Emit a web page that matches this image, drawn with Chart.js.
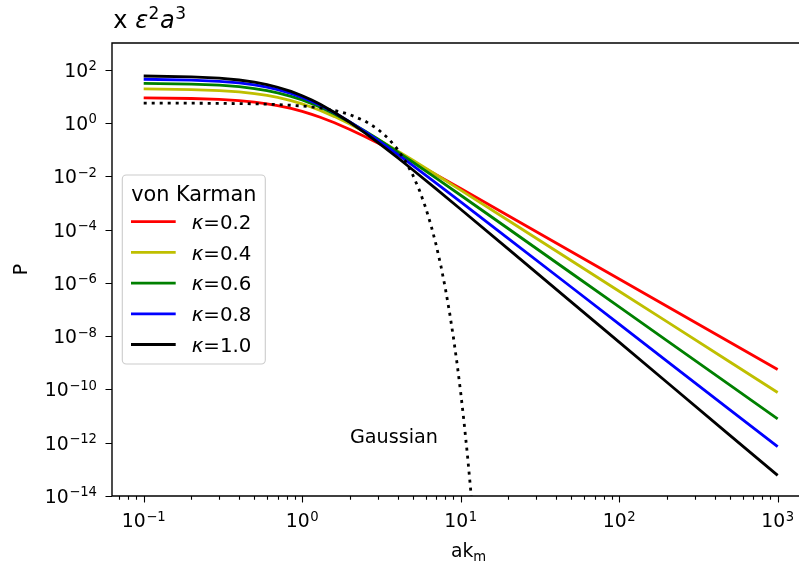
<!DOCTYPE html>
<html>
<head>
<meta charset="utf-8">
<script src="https://cdn.jsdelivr.net/npm/chart.js@4.4.1/dist/chart.umd.min.js"></script>
<style>
  html, body { margin: 0; padding: 0; background: #fff; overflow: hidden; }
  #wrap { width: 799px; height: 569px; }
</style>
</head>
<body>
<div id="wrap"><canvas id="chart" width="799" height="569"></canvas></div>
<script>
const kGrid = [0.1, 0.2, 0.3, 0.4, 0.5, 0.6, 0.7, 0.85, 1, 1.15, 1.3, 1.6, 2, 2.5, 3, 4, 5, 7, 10, 20, 50, 100, 200, 500, 1000];

// von Karman spectra, P in units of eps^2 a^3
const pKappa02 = [8.68, 8.25, 7.62, 6.85, 6.04, 5.23, 4.48, 3.50, 2.72, 2.106, 1.64, 1.019, 0.572, 0.304, 0.176, 0.0714, 0.0347, 0.0114, 3.45e-3, 3.31e-4, 1.47e-5, 1.40e-6, 1.32e-7, 5.87e-9, 5.57e-10];
const pKappa04 = [18.95, 17.92, 16.40, 14.57, 12.64, 10.77, 9.05, 6.87, 5.17, 3.895, 2.946, 1.730, 0.907, 0.448, 0.243, 0.0887, 0.0396, 0.0114, 3.00e-3, 2.19e-4, 6.75e-6, 4.85e-7, 3.48e-8, 1.07e-9, 7.69e-11];
const pKappa06 = [30.65, 28.83, 26.12, 22.92, 19.59, 16.41, 13.54, 9.99, 7.30, 5.33, 3.918, 2.175, 1.066, 0.488, 0.2486, 0.0816, 0.0334, 8.47e-3, 1.93e-3, 1.07e-4, 2.29e-6, 1.25e-7, 6.78e-9, 1.44e-10, 7.86e-12];
const pKappa08 = [43.63, 40.78, 36.61, 31.72, 26.72, 22.01, 17.84, 12.78, 9.06, 6.43, 4.585, 2.406, 1.10, 0.469, 0.2237, 0.0660, 0.0248, 5.52e-3, 1.10e-3, 4.60e-5, 6.82e-7, 2.82e-8, 1.16e-9, 1.72e-11, 7.07e-13];
const pKappa10 = [57.77, 53.68, 47.73, 40.86, 33.89, 27.46, 21.85, 15.21, 10.47, 7.20, 4.989, 2.476, 1.059, 0.418, 0.1873, 0.0497, 0.01718, 3.35e-3, 5.78e-4, 1.84e-5, 1.89e-7, 5.92e-9, 1.85e-10, 1.89e-12, 5.92e-14];

// Gaussian spectrum (dotted)
const kGauss = [0.1, 0.2, 0.3, 0.5, 0.7, 1, 1.25, 1.5, 1.75, 2, 2.5, 3, 3.5, 4, 4.5, 5, 5.5, 6, 6.5, 7, 7.5, 8, 8.5, 9, 9.5, 10, 10.5, 11, 11.5, 12];
const pGauss = [5.55, 5.51, 5.44, 5.23, 4.93, 4.34, 3.77, 3.17, 2.59, 2.05, 1.167, 0.587, 0.260, 0.102, 0.0352, 0.01075, 2.89e-3, 6.87e-4, 1.44e-4, 2.66e-5, 4.35e-6, 6.27e-7, 7.97e-8, 8.94e-9, 8.85e-10, 7.74e-11, 5.97e-12, 4.06e-13, 2.44e-14, 1.29e-15];

const kappaLabels = ["0.2", "0.4", "0.6", "0.8", "1.0"];
const xTickExps = [-1, 0, 1, 2, 3];
const yTickExps = [2, 0, -2, -4, -6, -8, -10, -12, -14];

const family = '"DejaVu Sans", sans-serif';
const fs = 18.8;
const fsSup = 13.2;
const lw = 2.8;

const toPoints = (xs, ys) => xs.map((x, i) => ({ x, y: ys[i] }));

const kappaSeries = [pKappa02, pKappa04, pKappa06, pKappa08, pKappa10];
const kappaColors = ["#ff0000", "#bfbf00", "#008000", "#0000ff", "#000000"];

const datasets = kappaSeries.map((values, i) => ({
  label: "\u03ba=" + kappaLabels[i],
  data: toPoints(kGrid, values),
  borderColor: kappaColors[i],
  borderWidth: lw,
  pointRadius: 0,
  fill: false,
  clip: 0,
  order: 5 - i,
}));

datasets.push({
  label: "Gaussian",
  data: toPoints(kGauss, pGauss),
  borderColor: "#000000",
  borderWidth: lw,
  borderDash: [3, 5],
  borderCapStyle: "butt",
  pointRadius: 0,
  fill: false,
  clip: 0,
  order: 0,
});

const supText = (exp) => (exp < 0 ? "\u2212" + -exp : String(exp));

const drawPow = (ctx, exp, x, base, align) => {
  const s = supText(exp);
  ctx.font = `${fs}px ${family}`;
  const w1 = ctx.measureText("10").width;
  ctx.font = `${fsSup}px ${family}`;
  const w2 = ctx.measureText(s).width;
  const total = w1 + 0.5 + w2;
  const left = align === "center" ? x - total / 2 : x - total;
  ctx.font = `${fs}px ${family}`;
  ctx.fillText("10", left, base);
  ctx.font = `${fsSup}px ${family}`;
  ctx.fillText(s, left + w1 + 0.5, base - 6.6);
};

// draws a run of [text, font, dy, gapAfter] pieces left to right
const drawRun = (ctx, pieces, x, base) => {
  let cx = x;
  for (const [text, font, dy, gap] of pieces) {
    ctx.font = font;
    ctx.fillText(text, cx, base + dy);
    cx += ctx.measureText(text).width + (gap || 0);
  }
  return cx;
};

const axesPlugin = {
  id: "mplAxes",
  afterDraw(chart) {
    const { ctx, chartArea: a, scales, width } = chart;
    const xs = scales.x;
    const ys = scales.y;
    const reg = `${fs}px ${family}`;
    const sup = `${fsSup}px ${family}`;

    ctx.save();
    ctx.fillStyle = "#000";
    ctx.strokeStyle = "#000";
    ctx.textAlign = "left";
    ctx.textBaseline = "alphabetic";

    // spines: the right one lies past the picture edge
    ctx.lineWidth = 1.4;
    ctx.beginPath();
    ctx.moveTo(width, a.top);
    ctx.lineTo(a.left, a.top);
    ctx.lineTo(a.left, a.bottom);
    ctx.lineTo(width, a.bottom);
    ctx.stroke();

    // x ticks: majors + minors, y majors only
    ctx.lineWidth = 1.1;
    ctx.beginPath();
    for (let e = -2; e <= 3; e++) {
      for (let m = 1; m <= 9; m++) {
        const v = m * Math.pow(10, e);
        if (v < xs.min || v > xs.max) continue;
        const px = Math.round(xs.getPixelForValue(v)) + 0.5;
        const len = m === 1 ? 6.5 : 3.7;
        ctx.moveTo(px, a.bottom);
        ctx.lineTo(px, a.bottom + len);
      }
    }
    for (const e of yTickExps) {
      const py = Math.round(ys.getPixelForValue(Math.pow(10, e))) + 0.5;
      ctx.moveTo(a.left, py);
      ctx.lineTo(a.left - 6.5, py);
    }
    ctx.stroke();

    // tick labels
    for (const e of xTickExps) {
      drawPow(ctx, e, xs.getPixelForValue(Math.pow(10, e)), a.bottom + 31.3, "center");
    }
    for (const e of yTickExps) {
      drawPow(ctx, e, 97, ys.getPixelForValue(Math.pow(10, e)) + 7, "right");
    }

    // title "x eps^2 a^3" (larger font)
    const tReg = `24px ${family}`;
    const tIta = `italic 24px ${family}`;
    const tSup = `17px ${family}`;
    drawRun(ctx, [["x ", tReg, 0], ["\u03b5", tIta, 0, 0.5], ["2", tSup, -9.5, 0.5], ["a", tIta, 0, 0.5], ["3", tSup, -9.5]], 113.3, 28);

    // axis labels
    ctx.font = reg;
    const wAk = ctx.measureText("ak").width;
    ctx.font = sup;
    const wM = ctx.measureText("m").width;
    drawRun(ctx, [["ak", reg, 0], ["m", sup, 4]], 468.6 - (wAk + wM) / 2, 557.3);

    ctx.save();
    ctx.translate(26.7, (a.top + a.bottom) / 2);
    ctx.rotate(-Math.PI / 2);
    ctx.font = reg;
    ctx.textAlign = "center";
    ctx.fillText("P", 0, 0);
    ctx.restore();

    // annotation
    ctx.font = `19.2px ${family}`;
    ctx.fillText("Gaussian", xs.getPixelForValue(2), ys.getPixelForValue(1e-12));

    // legend
    const bx = 122.3, by = 175, bw = 143, bh = 189, r = 4;
    ctx.beginPath();
    ctx.roundRect(bx, by, bw, bh, r);
    ctx.fillStyle = "rgba(255,255,255,0.8)";
    ctx.fill();
    ctx.strokeStyle = "#cccccc";
    ctx.lineWidth = 1.1;
    ctx.stroke();

    ctx.fillStyle = "#000";
    ctx.font = `20.8px ${family}`;
    ctx.textAlign = "center";
    ctx.fillText("von Karman", bx + bw / 2, 200.5);
    ctx.textAlign = "left";

    const lReg = `19.8px ${family}`;
    const lIta = `italic 19.8px ${family}`;
    kappaLabels.forEach((lab, i) => {
      const ly = 221.7 + i * 30.7;
      ctx.strokeStyle = kappaColors[i];
      ctx.lineWidth = lw;
      ctx.beginPath();
      ctx.moveTo(131, ly);
      ctx.lineTo(175.7, ly);
      ctx.stroke();
      drawRun(ctx, [["\u03ba", lIta, 0], ["=" + lab, lReg, 0]], 191.7, ly + 7.3);
    });

    ctx.restore();
  },
};

new Chart(document.getElementById("chart"), {
  type: "line",
  data: { datasets },
  options: {
    responsive: false,
    animation: false,
    devicePixelRatio: 1,
    layout: { padding: { left: 112, top: 43, right: 2, bottom: 73 } },
    scales: {
      // x range cut at the picture edge (about 158.5 px per decade)
      x: { type: "logarithmic", min: Math.pow(10, -1.2), max: Math.pow(10, 3.122), display: false },
      y: { type: "logarithmic", min: 1e-14, max: 1e3, display: false },
    },
    elements: { line: { tension: 0 }, point: { radius: 0 } },
    plugins: { legend: { display: false }, tooltip: { enabled: false } },
  },
  plugins: [axesPlugin],
});
</script>
</body>
</html>
